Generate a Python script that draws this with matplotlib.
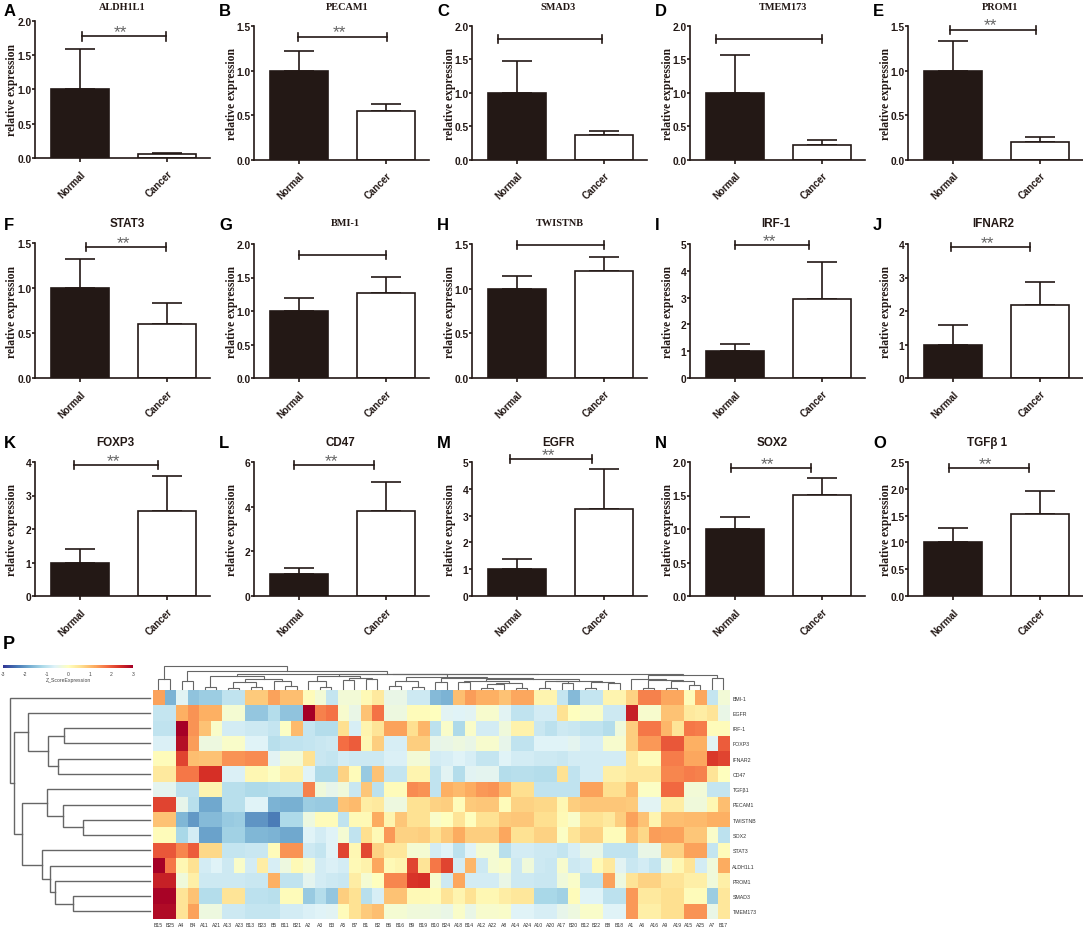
"""Expression bar panels A-O and the clustered z-score heatmap (panel P)."""
import matplotlib
matplotlib.use("Agg")
import matplotlib.pyplot as plt
import numpy as np
from matplotlib.cm import ScalarMappable
from matplotlib.colors import Normalize

plt.rcParams["axes.unicode_minus"] = False

W, H = 1083, 929
SANS = "Liberation Sans"
SERIF = "Liberation Serif"
INK = "#231815"

# bar panels, left to right and top to bottom
letters = list("ABCDEFGHIJKLMNO")
genes = ["ALDH1L1", "PECAM1", "SMAD3", "TMEM173", "PROM1",
         "STAT3", "BMI-1", "TWISTNB", "IRF-1", "IFNAR2",
         "FOXP3", "CD47", "EGFR", "SOX2", "TGFβ 1"]
title_serif = [True, True, True, True, True,
               False, True, True, False, False,
               False, False, False, False, False]
title_x = [122, 347, 558, 783, 1000, 127, 345, 560, 776, 993, 115, 340, 558, 772, 987]
normal_top = [1.59, 1.22, 1.48, 1.57, 1.33, 1.32, 1.19, 1.14, 1.27, 1.58, 1.39, 1.27, 1.37, 1.18, 1.27]
cancer = [0.06, 0.55, 0.37, 0.22, 0.20, 0.60, 1.27, 1.20, 2.95, 2.17, 2.55, 3.80, 3.25, 1.51, 1.53]
cancer_top = [0.07, 0.63, 0.43, 0.29, 0.25, 0.83, 1.51, 1.36, 4.32, 2.88, 3.58, 5.10, 4.75, 1.76, 1.95]
y_max = [2.0, 1.5, 2.0, 2.0, 1.5, 1.5, 2.0, 1.5, 5, 4, 4, 6, 5, 2.0, 2.5]
y_step = [0.5, 0.5, 0.5, 0.5, 0.5, 0.5, 0.5, 0.5, 1, 1, 1, 2, 1, 0.5, 0.5]
bracket_y = [1.77, 1.38, 1.80, 1.80, 1.46, 1.46, 1.835, 1.49, 4.95, 3.9, 3.9, 5.85, 5.1, 1.91, 2.39]
bracket_x0 = [0.02, -0.01, -0.22, -0.22, -0.03, 0.07, 0.0, 0.0, 0.0, -0.02, -0.07, -0.06, -0.08, -0.05, -0.05]
bracket_x1 = [0.985, 1.01, 0.98, 1.0, 0.95, 0.985, 1.0, 1.0, 0.85, 0.88, 0.9, 0.86, 0.86, 0.87, 0.87]
stars = [True, True, False, False, True, True, False, False, True, True, True, True, True, True, True]

letter_x = [4, 219, 437, 655, 873]
axis_left = [35, 254, 472, 690, 908]
axis_top = [21.7, 27, 27, 27, 27, 244.3, 245, 245, 245, 245, 463, 463, 463, 463, 463]
axis_bottom = [159, 160.7, 160.7, 160.7, 160.7, 379, 379, 379, 379, 379, 597, 597, 597, 597, 597]
row_title_y = [8, 224, 443]
row_letter_y = [11, 226, 444]

# heatmap
samples = ["B15", "B25", "A4", "B4", "A11", "A21", "A13", "A23", "B13", "B23",
           "B5", "B11", "B21", "A2", "A3", "B3", "A5", "B7", "B1", "B2",
           "B6", "B16", "B9", "B19", "B10", "B24", "A18", "B14", "A12", "A22",
           "A8", "A14", "A24", "A10", "A20", "A17", "B20", "B12", "B22", "B8",
           "B18", "A1", "A6", "A16", "A9", "A19", "A15", "A25", "A7", "B17"]
heat_genes = ["BMI-1", "EGFR", "IRF-1", "FOXP3", "IFNAR2", "CD47", "TGFβ1", "PECAM1",
              "TWISTNB", "SOX2", "STAT3", "ALDH1L1", "PROM1", "SMAD3", "TMEM173"]

bmi1 = [1.3, -1.7, -0.55, -1.5, -1.35, -1.35, -0.95, -0.95, 0.85, 0.85,
        1.3, 1.0, 1.0, 0.05, -0.25, -0.9, -0.25, -0.25, 0.1, 0.4,
        -0.4, -0.4, -0.8, -0.8, -1.6, -1.7, 1.0, 1.35, 1.15, 1.15,
        0.95, 1.25, 1.25, 0.2, 0.2, -0.9, -1.6, -0.9, -0.9, 0.2,
        0.2, 0.75, 1.6, 1.6, 1.25, 1.25, 0.05, 1.25, -0.9, -0.25]
egfr = [-0.9, -0.9, 1.15, 1.45, 1.15, 1.15, -0.2, -0.2, -1.45, -1.45,
        -1.1, -1.5, -1.5, 3.0, 1.6, 1.75, -0.15, -0.4, 0.95, 1.75,
        -0.35, -0.35, 0.05, 0.05, 0.0, -0.55, -0.6, -0.55, -0.15, -0.15,
        -0.55, -0.95, -0.95, -0.75, -0.75, 0.55, 0.0, -0.1, -0.1, -0.8,
        -0.8, 2.6, -0.15, -0.15, 0.95, 0.95, 0.4, 0.35, 0.5, -0.4]
irf1 = [-0.95, -0.95, 3.0, 1.45, 0.95, -0.1, -0.75, -0.75, -0.8, -0.8,
        -0.9, -0.05, 1.05, -0.9, -1.1, -1.1, 0.6, -0.7, 0.2, 0.5,
        1.3, 1.3, 0.6, 1.1, -1.0, -0.1, -1.15, -0.1, -0.75, -0.75,
        -0.3, 0.25, 0.25, -0.85, -1.0, -0.8, -0.85, -0.95, -0.95, -1.1,
        -0.3, 0.8, 1.7, 1.7, 1.1, 0.5, 1.7, 1.65, 0.05, 0.05]
foxp3 = [-0.65, -0.65, 2.8, 1.35, -0.35, -0.35, -0.1, -0.1, -0.6, -0.6,
         -1.05, -0.95, -0.95, -0.9, -0.85, -0.8, 1.8, 1.95, 0.15, 0.8,
         -0.7, -0.7, 0.8, 0.8, -0.45, -0.4, -0.35, -0.4, -0.15, -0.15,
         -0.45, -0.95, -0.95, -0.6, -0.6, -0.6, -0.5, -0.7, -0.7, -0.15,
         -0.15, 0.8, 1.4, 1.4, 2.0, 2.0, 1.15, 1.15, -0.55, 1.95]
ifnar2 = [0.05, 0.05, 2.2, 1.0, 0.95, 0.95, 1.45, 1.45, 1.5, 1.5,
          -0.55, -0.25, -0.25, 0.55, -0.85, -0.9, -0.75, -0.8, -0.8, -0.8,
          -0.65, -0.65, -0.25, -0.25, -0.75, -0.7, -0.6, -0.7, -0.9, -0.9,
          -0.6, -0.75, -0.75, -0.8, -0.8, -0.85, -0.75, -0.75, -0.75, -0.75,
          -0.75, 0.45, 0.05, 0.05, 1.65, 1.65, 1.25, 1.25, 2.3, 2.2]
cd47 = [0.4, 0.4, 1.7, 1.7, 2.4, 2.4, -0.65, -0.65, 0.15, 0.15,
        -0.05, 0.25, 0.25, -0.6, -1.15, -1.15, 0.75, 0.05, -1.4, 0.95,
        -0.9, -0.9, 0.2, 0.2, -0.95, -0.55, -1.1, -0.55, -0.5, -0.5,
        -1.1, -1.05, -1.05, -1.1, -1.1, 0.55, -0.95, -0.75, -0.75, 0.3,
        0.3, 0.45, 0.45, 0.45, 1.55, 1.55, 1.65, 1.6, 0.5, 0.0]
tgfb1 = [-0.5, -0.5, -1.0, -1.0, 0.2, 0.2, -1.05, -1.05, -1.15, -1.15,
         -1.1, -1.05, -1.05, 1.6, -0.3, -0.45, -0.3, -0.85, 0.9, -1.0,
         0.05, 0.05, 1.5, 1.45, -0.95, 1.15, 1.05, 1.2, 1.4, 1.45,
         1.1, 0.6, 0.6, -0.95, -0.95, -0.95, -0.95, 1.3, 1.3, 0.6,
         0.6, 1.05, -0.05, -0.05, 1.85, 1.85, -0.25, -0.25, -0.9, -0.9]
pecam1 = [2.2, 2.2, -0.45, -1.05, -1.85, -1.85, -1.05, -1.05, -0.6, -0.6,
          -1.7, -1.75, -1.75, -1.35, -1.4, -1.4, 0.95, 1.05, 0.35, 0.4,
          -0.35, -0.35, 0.55, 0.55, 0.75, 0.8, 0.05, 0.85, 0.9, 0.9,
          0.05, 0.75, 0.75, 0.7, 0.7, 0.15, 0.8, 0.9, 0.9, 0.9,
          0.9, 0.85, -0.55, -0.55, 0.35, 0.35, -0.3, -0.3, 0.15, 1.0]
twistnb = [0.95, 0.95, -1.65, -2.0, -1.6, -1.6, -1.4, -1.35, -2.05, -2.05,
           -2.3, -1.15, -1.15, -0.35, 0.05, 0.05, -0.95, 0.1, 0.1, 1.2,
           0.2, 0.9, 0.55, 0.55, -0.1, 0.0, 0.5, 0.0, 0.55, 0.55,
           0.85, 0.9, 0.9, 0.6, 0.6, 0.1, -0.1, 0.55, 0.55, 0.4,
           0.8, 1.3, 0.95, 0.2, 1.0, 1.0, 1.05, 1.05, 1.15, 1.15]
sox2 = [0.05, 0.05, -1.2, -0.75, -1.9, -1.9, -1.3, -1.3, -1.65, -1.65,
        -1.7, -1.85, -1.85, -0.6, -0.75, -0.6, -0.2, -0.95, 0.6, 0.1,
        1.4, 0.75, 0.75, 0.8, 0.55, 0.85, 1.2, 0.8, 0.8, 0.8,
        1.25, 0.55, 0.55, 0.75, 0.75, -0.05, 0.5, 0.75, 0.75, 0.05,
        0.05, 1.0, 0.7, 1.35, 1.3, 1.3, 0.9, 0.9, -0.1, -1.0]
stat3 = [2.0, 2.0, 1.55, 1.95, 0.7, 0.7, -0.9, -0.9, -0.85, -0.85,
         0.05, 1.45, 1.45, -0.8, -0.9, -0.6, 2.2, 0.15, 2.15, 0.75,
         0.45, 0.45, -0.2, -0.2, -0.75, -0.6, -1.0, -0.6, -0.2, -0.2,
         -1.05, -0.75, -0.75, -0.8, -0.8, -0.9, -0.7, -0.4, -0.4, -0.95,
         -0.95, -0.95, -0.4, -0.4, 0.75, 0.75, 1.3, 1.3, -0.9, 0.05]
aldh1l1 = [3.0, 1.7, 0.15, 0.55, -0.75, -0.6, -0.8, -0.1, -0.75, 0.35,
           -0.7, -0.35, 0.1, -0.15, -0.75, -0.65, -0.75, 0.1, 0.25, 1.25,
           0.1, 0.2, 2.2, 0.5, 1.7, 2.2, -0.75, 1.1, -0.8, -0.2,
           -0.1, -0.8, -0.3, -0.8, -0.85, -0.15, -0.8, -0.75, 0.1, 0.4,
           -0.55, -0.85, -0.75, -0.9, -0.3, 0.15, 0.5, -0.75, -0.3, 1.2]
prom1 = [2.6, 2.6, -0.3, 0.3, -0.8, -0.8, -0.8, -0.8, -0.85, -0.85,
         1.15, -0.95, -0.95, -0.5, -0.75, -0.8, -0.85, 0.35, -0.2, 0.0,
         1.55, 1.55, 2.35, 2.4, -0.15, -0.8, 1.25, -0.75, -0.75, -0.75,
         -0.4, -0.8, -0.8, -0.85, -0.85, -0.3, -0.1, -0.95, -0.95, 1.3,
         -0.35, 0.5, 0.75, 0.75, 0.5, 0.5, 0.3, 0.3, -0.3, 0.3]
smad3 = [2.95, 2.95, 0.5, 0.95, -1.1, -1.1, 0.5, 0.5, -1.0, -1.0,
         -1.05, 0.05, 0.05, -1.4, -1.1, -1.45, 0.8, 0.55, -1.05, -0.7,
         0.95, 0.95, 0.1, 0.1, 0.05, 0.5, 0.2, 0.55, 0.15, 0.15,
         0.35, 0.45, 0.45, -1.2, -1.2, -1.3, 0.05, -0.6, -0.6, -1.0,
         -1.0, 1.4, 0.4, 0.4, 0.6, 0.6, 0.05, 0.05, -1.35, 0.45]
tmem173 = [2.85, 2.85, 0.5, 1.3, -0.35, -0.35, -0.8, -0.8, -0.9, -0.9,
           -0.9, -0.75, -0.75, -0.65, -0.6, -0.55, 0.05, 0.55, 0.85, 1.0,
           -0.2, -0.2, -0.3, -0.3, -0.35, -0.4, -0.1, -0.4, -0.15, -0.15,
           -0.1, -0.6, -0.6, -0.7, -0.7, -0.45, -0.35, -0.1, -0.1, -0.6,
           -0.6, 1.4, 0.3, 0.3, 0.6, 0.6, 1.45, 1.45, -0.4, 0.45]
z_rows = [bmi1, egfr, irf1, foxp3, ifnar2, cd47, tgfb1, pecam1,
          twistnb, sox2, stat3, aldh1l1, prom1, smad3, tmem173]

# dendrograms as (merge height, child, child), leaves are row/column indices
row_tree = (140, 0, (136,
    (121.7, 1, (101.7, (86, 2, 3), (92.3, 4, 5))),
    (128, (103.3, 6, (86.7, 7, (66.7, 8, 9))),
          (108.3, 10, (100, 11, (95, 12, (77.3, 13, 14)))))))

left_part = (12.7, (2.5, 4, 5), (10, (6.7, (1.5, 6, 7), (2.5, 8, 9)), (8.5, 10, (3, 11, 12))))
mid_part = (12.5, (7.7, 13, (2, 14, 15)), (11, (9, 16, 17), (10, 18, 19)))
late_part = (11.7, (7.7, (3.3, 20, 21), (2.3, 22, 23)),
             (11, (6.7, 24, 25),
              (10, (8, (6.7, 26, 27), (6, (5, (1, 28, 29), 30), (1, 31, 32))),
               (8.3, (7.7, (1, 33, 34), (6, 35, 36)), (7, (1.5, 37, 38), (6, 39, 40))))))
right_part = (14, (10, 41, (9.3, (1, 42, 43), (8.3, (1, 44, 45), (4, 46, 47)))), (11, 48, 49))
col_tree = (22.7, (10, 0, 1), (17.7, (8, 2, 3),
            (15.3, left_part, (15, (14.7, mid_part, late_part), right_part))))


def px_axes(left, top, right, bottom):
    return fig.add_axes([left / W, 1 - bottom / H, (right - left) / W, (bottom - top) / H])


def tree_segments(node):
    """Return (leaf position, height, segments) for a nested merge tuple."""
    if not isinstance(node, tuple):
        return node + 0.5, 0.0, []
    h, a, b = node
    pa, ha, sa = tree_segments(a)
    pb, hb, sb = tree_segments(b)
    seg = [([pa, pa, pb, pb], [ha, h, h, hb])]
    return (pa + pb) / 2, h, sa + sb + seg


def bar_panel(i):
    row, col = divmod(i, 5)
    left = axis_left[col]
    ax = px_axes(left, axis_top[i], left + 175, axis_bottom[i])
    ax.patch.set_alpha(0)

    vals = [1.0, cancer[i]]
    ax.bar([0, 1], vals, width=0.672, color=[INK, "white"], edgecolor=INK, linewidth=1.2, zorder=2)
    ax.errorbar([0, 1], vals,
                yerr=[[0, 0], [normal_top[i] - 1.0, cancer_top[i] - cancer[i]]],
                fmt="none", ecolor=INK, elinewidth=1.2, capsize=10.5, capthick=1.2, zorder=1)

    ax.set_xlim(-0.517, 1.494)
    ax.set_ylim(0, y_max[i])
    ax.spines[["top", "right"]].set_visible(False)
    ax.spines[["left", "bottom"]].set_linewidth(1.2)
    ax.spines[["left", "bottom"]].set_color(INK)
    ax.set_yticks(np.arange(0, y_max[i] + 1e-6, y_step[i]))
    ax.set_yticklabels([f"{t:.1f}" if y_step[i] < 1 else f"{t:.0f}" for t in ax.get_yticks()],
                       fontfamily=SANS, fontweight="bold", fontsize=7.4)
    ax.set_xticks([0, 1])
    ax.set_xticklabels(["Normal", "Cancer"], rotation=45, ha="right", va="top",
                       rotation_mode="anchor", fontfamily=SANS, fontweight="bold", fontsize=7.0)
    ax.tick_params(axis="y", width=1.2, length=2, color=INK, labelcolor=INK, pad=0.6)
    ax.tick_params(axis="x", width=1.2, length=3, color=INK, labelcolor=INK, pad=4.5)
    ax.set_ylabel("relative expression", fontfamily=SERIF, fontweight="bold", fontsize=8.4, color=INK)
    ax.yaxis.set_label_coords(-16.5 / 175, 0.5)

    y = bracket_y[i]
    x0, x1 = bracket_x0[i], bracket_x1[i]
    ax.plot([x0, x1], [y, y], color=INK, lw=1.2, clip_on=False)
    for x in (x0, x1):
        ax.plot([x, x], [y - y_max[i] * 0.03, y + y_max[i] * 0.03], color=INK, lw=1.2, clip_on=False)
    if stars[i]:
        ax.annotate("**", xy=((x0 + x1) / 2, y), xytext=(-2, -2), textcoords="offset points",
                    ha="center", va="bottom", fontfamily=SANS, fontsize=12.5, color="#666666",
                    annotation_clip=False)

    fig.text(title_x[i] / W, 1 - row_title_y[row] / H, genes[i], ha="center", va="center",
             fontfamily=SERIF if title_serif[i] else SANS, fontweight="bold",
             fontsize=7.4 if title_serif[i] else 8.4, color=INK)
    fig.text(letter_x[col] / W, 1 - row_letter_y[row] / H, letters[i], ha="left", va="center",
             fontfamily=SANS, fontweight="bold", fontsize=12, color="black")


fig = plt.figure(figsize=(W / 100, H / 100), dpi=100, facecolor="white")

for i in range(len(genes)):
    bar_panel(i)

fig.text(3 / W, 1 - 645 / H, "P", ha="left", va="center", fontfamily=SANS,
         fontweight="bold", fontsize=13, color="black")

# heatmap body
heat_l, heat_t, heat_r, heat_b = 152.7, 691, 729, 920
ax_h = px_axes(heat_l, heat_t, heat_r, heat_b)
z = np.array(z_rows)
norm = Normalize(-3, 3)
ax_h.imshow(z, cmap="RdYlBu_r", norm=norm, aspect="auto", interpolation="nearest")
ax_h.set_xticks(np.arange(len(samples)))
ax_h.set_xticklabels(samples, fontfamily=SANS, fontsize=3.7, color="#333333")
ax_h.set_yticks(np.arange(len(heat_genes)))
ax_h.set_yticklabels(heat_genes, fontfamily=SANS, fontsize=3.8, color="#333333")
ax_h.yaxis.tick_right()
ax_h.tick_params(length=0, pad=2.5)
for s in ax_h.spines.values():
    s.set_visible(False)

# row dendrogram, root on the left
ax_r = px_axes(10, heat_t, 150, heat_b)
for xs, ys in tree_segments(row_tree)[2]:
    ax_r.plot(ys, xs, color="#666666", lw=1.0, solid_joinstyle="miter", clip_on=False)
ax_r.set_xlim(140, 0)
ax_r.set_ylim(len(heat_genes), 0)
ax_r.axis("off")

# column dendrogram, root on top
ax_c = px_axes(heat_l, 667.3, heat_r, 690)
for xs, ys in tree_segments(col_tree)[2]:
    ax_c.plot(xs, ys, color="#666666", lw=0.8, solid_joinstyle="miter", clip_on=False)
ax_c.set_xlim(0, len(samples))
ax_c.set_ylim(0, 22.7)
ax_c.axis("off")

# colour key
ax_k = px_axes(3.3, 666.3, 133, 668.8)
cb = fig.colorbar(ScalarMappable(norm=norm, cmap="RdYlBu_r"), cax=ax_k, orientation="horizontal")
cb.set_ticks([-3, -2, -1, 0, 1, 2, 3])
cb.outline.set_visible(False)
cb.ax.tick_params(labelsize=3.6, length=0, pad=2.5, labelcolor="#444444")
for lab in cb.ax.get_xticklabels():
    lab.set_fontfamily(SANS)
fig.text(68 / W, 1 - 681 / H, "Z_ScoreExpression", ha="center", va="center",
         fontfamily=SANS, fontsize=3.7, color="#444444")

fig.savefig("out.png", dpi=100)
